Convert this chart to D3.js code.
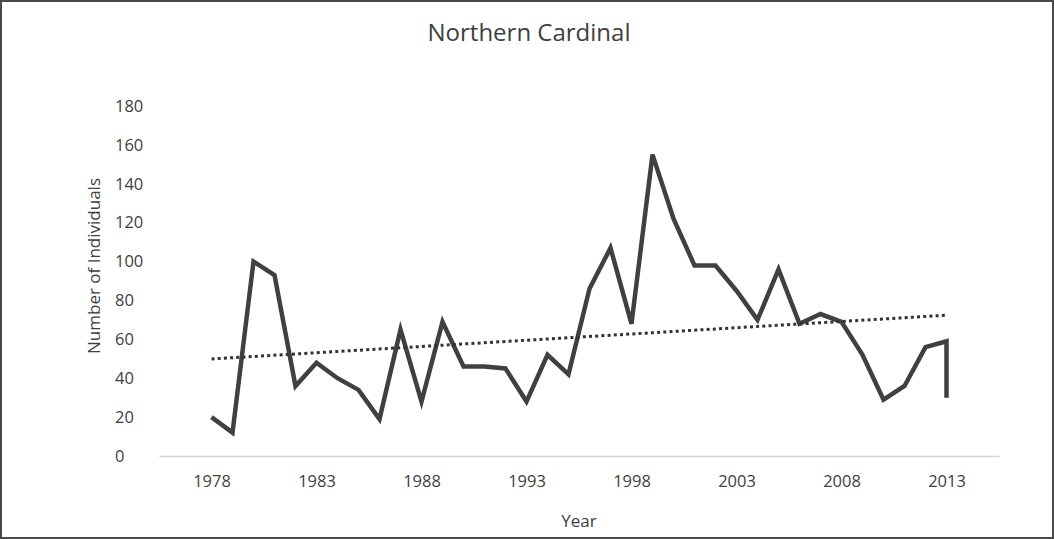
<!DOCTYPE html>
<html>
<head>
<meta charset="utf-8">
<script src="https://cdn.jsdelivr.net/npm/d3@7"></script>
<style>
  body { margin: 0; background: #fff; }
  svg text { font-family: "Open Sans", sans-serif; fill: #404040; }
</style>
</head>
<body>
<div class="chart"></div>
<script>
const width = 1054;
const height = 539;

// survey counts (2013 appears twice in the source)
const years = [1978, 1979, 1980, 1981, 1982, 1983, 1984, 1985, 1986, 1987,
    1988, 1989, 1990, 1991, 1992, 1993, 1994, 1995, 1996, 1997,
    1998, 1999, 2000, 2001, 2002, 2003, 2004, 2005, 2006, 2007,
    2008, 2009, 2010, 2011, 2012, 2013, 2013];
const counts = [20, 12, 100, 93, 36, 48, 40, 34, 19, 65,
    28, 69, 46, 46, 45, 28, 52, 42, 86, 107,
    68, 155, 122, 98, 98, 85, 70, 96, 68, 73,
    69, 52, 29, 36, 56, 59, 30];

// linear trendline end points
const trendYears = [1978, 2013];
const trendValues = [49.9, 72.4];

const yTicks = [0, 20, 40, 60, 80, 100, 120, 140, 160, 180];
const xTicks = [1978, 1983, 1988, 1993, 1998, 2003, 2008, 2013];

const m = { top: 106, right: 55, bottom: 83, left: 159 };

const svg = d3.select(".chart")
    .append("svg")
    .attr("width", width)
    .attr("height", height);

svg.append("rect")
    .attr("x", 1).attr("y", 1)
    .attr("width", width - 2).attr("height", height - 2)
    .attr("fill", "#fff")
    .attr("stroke", "#4a4a4a")
    .attr("stroke-width", 2);

const x = d3.scaleLinear()
    .domain([1975.5, 2015.5])
    .range([m.left, width - m.right]);

const y = d3.scaleLinear()
    .domain([0, 180])
    .range([height - m.bottom, m.top]);

// y tick labels (left aligned, no axis line)
svg.append("g")
    .selectAll("text")
    .data(yTicks)
    .join("text")
    .attr("x", 115)
    .attr("y", d => y(d))
    .attr("dy", "0.35em")
    .attr("font-size", 16.5)
    .text(d => d);

// x axis
const xAxis = d3.axisBottom(x)
    .tickValues(xTicks)
    .tickFormat(d3.format("d"))
    .tickSize(0)
    .tickPadding(19);

const gx = svg.append("g")
    .attr("transform", "translate(0," + y(0) + ")")
    .call(xAxis);
gx.select(".domain").attr("stroke", "#d4d4d4").attr("stroke-width", 1.5);
gx.selectAll("text")
    .attr("font-size", 16.5)
    .attr("font-family", "Open Sans, sans-serif")
    .attr("fill", "#404040");

// data line
const pts = years.map((yr, i) => [yr, counts[i]]);
const line = d3.line()
    .x(d => x(d[0]))
    .y(d => y(d[1]));

svg.append("path")
    .datum(pts)
    .attr("d", line)
    .attr("fill", "none")
    .attr("stroke", "#404040")
    .attr("stroke-width", 4.5)
    .attr("stroke-linejoin", "miter");

// dotted trendline
svg.append("path")
    .datum(trendYears.map((yr, i) => [yr, trendValues[i]]))
    .attr("d", line)
    .attr("fill", "none")
    .attr("stroke", "#333")
    .attr("stroke-width", 3)
    .attr("stroke-dasharray", "3,3.2");

// titles
svg.append("text")
    .attr("x", 529)
    .attr("y", 41)
    .attr("text-anchor", "middle")
    .attr("font-size", 24)
    .text("Northern Cardinal");

svg.append("text")
    .attr("x", 579)
    .attr("y", 527)
    .attr("text-anchor", "middle")
    .attr("font-size", 17)
    .text("Year");

svg.append("text")
    .attr("transform", "translate(100,266) rotate(-90)")
    .attr("text-anchor", "middle")
    .attr("font-size", 17)
    .text("Number of Individuals");
</script>
</body>
</html>
